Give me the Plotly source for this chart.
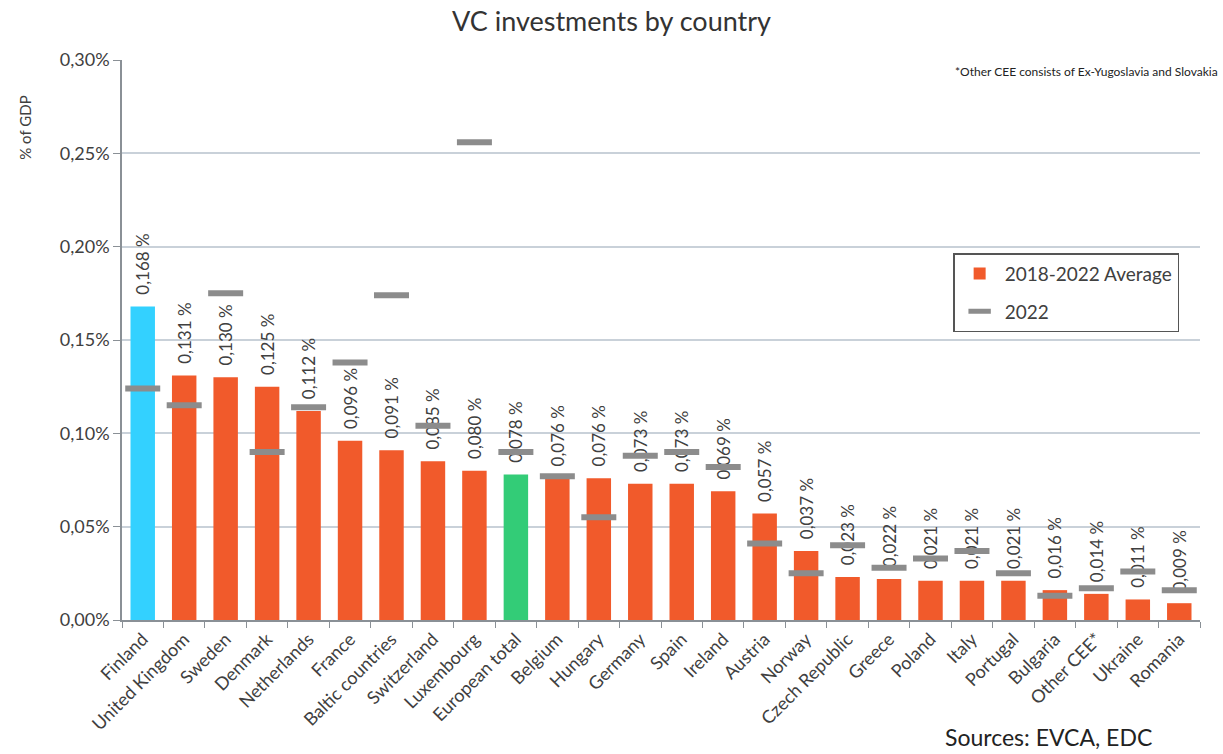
import plotly.graph_objects as go

countries = ["Finland", "United Kingdom", "Sweden", "Denmark", "Netherlands", "France",
             "Baltic countries", "Switzerland", "Luxembourg", "European total", "Belgium",
             "Hungary", "Germany", "Spain", "Ireland", "Austria", "Norway", "Czech Republic",
             "Greece", "Poland", "Italy", "Portugal", "Bulgaria", "Other CEE*", "Ukraine", "Romania"]
avg_2018_2022 = [0.168, 0.131, 0.130, 0.125, 0.112, 0.096, 0.091, 0.085, 0.080, 0.078, 0.076,
                 0.076, 0.073, 0.073, 0.069, 0.057, 0.037, 0.023, 0.022, 0.021, 0.021, 0.021,
                 0.016, 0.014, 0.011, 0.009]
val_2022 = [0.124, 0.115, 0.175, 0.090, 0.114, 0.138, 0.174, 0.104, 0.256, 0.090, 0.077,
            0.055, 0.088, 0.090, 0.082, 0.041, 0.025, 0.040, 0.028, 0.033, 0.037, 0.025,
            0.013, 0.017, 0.026, 0.016]
y_ticks = [0.0, 0.05, 0.10, 0.15, 0.20, 0.25, 0.30]
y_ticktext = ["0,00%", "0,05%", "0,10%", "0,15%", "0,20%", "0,25%", "0,30%"]
highlight = {"Finland": "#33D1FF", "European total": "#33CC77"}

ORANGE = "#F15A2B"
GREY = "#8C8C8C"
TXT = "#404040"
FONT = "Lato"


def bar_trace(names, vals, color, name, show):
    return go.Bar(
        x=names, y=vals, name=name, showlegend=show, legendgroup=name,
        marker=dict(color=color, line=dict(width=0)),
        texttemplate="\u00a0\u00a0%{y:.3f} %", textposition="outside", textangle=-90,
        constraintext="none",
        textfont=dict(size=17, color=TXT, family=FONT),
        cliponaxis=False,
    )


fig = go.Figure()
reg_x = [c for c in countries if c not in highlight]
reg_y = [v for c, v in zip(countries, avg_2018_2022) if c not in highlight]
fig.add_trace(bar_trace(reg_x, reg_y, ORANGE, "2018-2022 Average", True))
for c, v in zip(countries, avg_2018_2022):
    if c in highlight:
        fig.add_trace(bar_trace([c], [v], highlight[c], c, False))

fig.add_trace(go.Scatter(
    x=countries, y=val_2022, name="2022", legendgroup="2022", mode="markers",
    marker=dict(symbol="line-ew", size=25, line=dict(width=6, color=GREY), color=GREY),
))

fig.update_layout(
    width=1223, height=754,
    margin=dict(l=122, r=23, t=60, b=134),
    paper_bgcolor="white", plot_bgcolor="white",
    separators=",.",
    barmode="overlay",
    bargap=0.41,
    font=dict(family=FONT, color=TXT, size=16),
    title=dict(text="VC investments by country", x=0.5, xanchor="center", y=0.972, yanchor="middle",
               font=dict(size=27, color="#333333", family=FONT)),
    showlegend=True,
    legend=dict(x=0.771, y=0.655, xanchor="left", yanchor="top",
                bordercolor="#555555", borderwidth=1.5, bgcolor="white",
                font=dict(size=19, color=TXT, family=FONT),
                itemwidth=40, tracegroupgap=10, traceorder="grouped",
                entrywidth=200, entrywidthmode="pixels"),
    xaxis=dict(
        categoryorder="array", categoryarray=countries, range=[-0.5, len(countries) - 0.5],
        tickangle=-45, tickfont=dict(size=18, color=TXT, family=FONT),
        showline=True, linecolor="#8a9096", linewidth=1.5,
        ticks="outside", tickson="boundaries", ticklen=6, tickcolor="#8a9096",
        showgrid=False,
    ),
    yaxis=dict(
        range=[0, 0.30], tickvals=y_ticks, ticktext=y_ticktext,
        tickfont=dict(size=18, color=TXT, family=FONT),
        showline=True, linecolor="#8a9096", linewidth=1.5,
        ticks="outside", ticklen=7, tickcolor="#8a9096",
        showgrid=True, gridcolor="#C9D1D9", gridwidth=1.5,
        zeroline=False,
    ),
    annotations=[
        dict(text="% of GDP", textangle=-90, xref="paper", yref="paper", x=-0.09, y=0.879,
             xanchor="center", yanchor="middle", showarrow=False,
             font=dict(size=15, color=TXT, family=FONT)),
        dict(text="*Other CEE consists of Ex-Yugoslavia and Slovakia", xref="paper", yref="paper",
             x=1.0185, y=0.979, xanchor="right", yanchor="middle", showarrow=False,
             font=dict(size=12, color="#222222", family=FONT)),
        dict(text="Sources: EVCA, EDC", xref="paper", yref="paper", x=0.762, y=-0.238,
             xanchor="left", yanchor="bottom", showarrow=False,
             font=dict(size=23, color="#222222", family=FONT)),
    ],
)

fig.write_html("out.html")
